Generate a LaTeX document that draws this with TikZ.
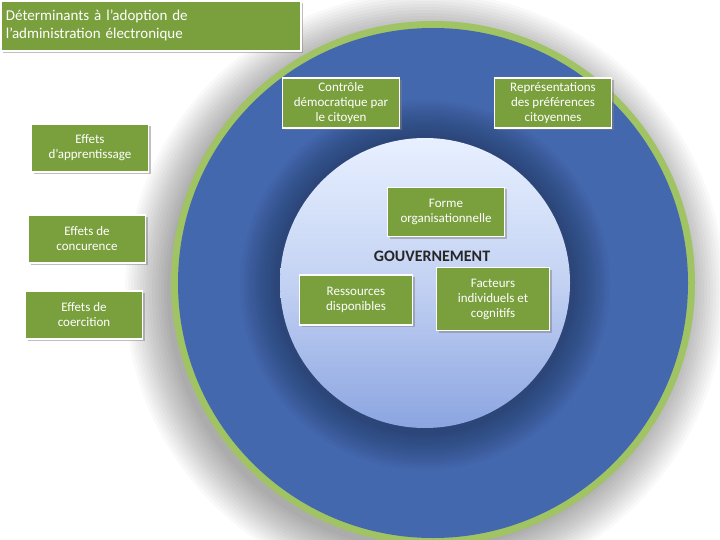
\documentclass[tikz,border=0pt]{standalone}
\usepackage{fontspec}
\setmainfont{Carlito}
\usetikzlibrary{shadows,fadings}
\definecolor{bblue}{RGB}{68,104,174}
\definecolor{rim}{RGB}{160,195,100}
\definecolor{bgreen}{RGB}{122,160,62}
\definecolor{inlight}{RGB}{232,240,255}
\definecolor{indark}{RGB}{140,165,225}
\tikzset{gbox/.style={draw=white,line width=1.8pt,fill=bgreen,text=white,align=center,
  font=\fontsize{13}{15}\selectfont,inner sep=2pt,drop shadow={shadow xshift=2pt,shadow yshift=-2pt,opacity=0.5}}}
\begin{document}
\begin{tikzpicture}[x=1pt,y=-1pt]
\useasboundingbox (0,0) rectangle (720,540);
\fill[white] (0,0) rectangle (720,540);
% glow shadow
\foreach \i in {0,...,14}
  \fill[black,opacity=0.025] (425,292) circle ({300-3*\i});
\fill[rim] (433,283) circle (262);
\fill[bblue] (433,283) circle (255);
% inner shadow ring
\foreach \i in {0,...,14}
  \fill[black!70!bblue,opacity=0.03] (425,285) circle ({185-2.5*\i});
\shade[top color=inlight,bottom color=indark,middle color=inlight!60!indark] (425,283) circle (145);
\node[font=\bfseries\fontsize{16}{18}\selectfont,text=black!85] (gov) at (432,256) {GOUVERNEMENT};
\node[gbox,minimum width=300,minimum height=50,align=left,anchor=north west,text width=290,
  font=\fontsize{15}{18}\selectfont] (title) at (0,0) {Déterminants à l’adoption de\\l’administration électronique};
\node[gbox,minimum width=117,minimum height=50] (ctrl) at (341,103) {Contrôle\\démocratique par\\le citoyen};
\node[gbox,minimum width=117,minimum height=50] (rep) at (553,103) {Représentations\\des préférences\\citoyennes};
\node[gbox,minimum width=117,minimum height=48] (app) at (90,148) {Effets\\d’apprentissage};
\node[gbox,minimum width=117,minimum height=48] (conc) at (87,239) {Effets de\\concurence};
\node[gbox,minimum width=117,minimum height=48] (coer) at (84,315) {Effets de\\coercition};
\node[gbox,minimum width=117,minimum height=49] (forme) at (446,212) {Forme\\organisationnelle};
\node[gbox,minimum width=113,minimum height=50] (res) at (356,300) {Ressources\\disponibles};
\node[gbox,minimum width=113,minimum height=63] (fac) at (493,299) {Facteurs\\individuels et\\cognitifs};
\end{tikzpicture}
\end{document}
